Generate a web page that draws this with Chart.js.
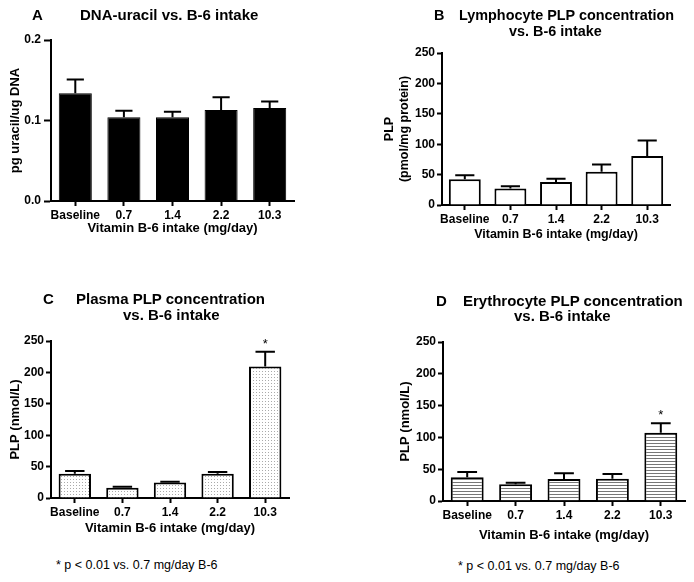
<!DOCTYPE html>
<html>
<head>
<meta charset="utf-8">
<script src="https://cdn.jsdelivr.net/npm/chart.js@4.4.0/dist/chart.umd.min.js"></script>
<style>
  html, body { margin: 0; padding: 0; background: #fff; }
  body { width: 694px; height: 582px; position: relative; overflow: hidden; font-family: "Liberation Sans", Arial, sans-serif; }
  canvas { position: absolute; }
  .t { position: absolute; white-space: pre; font-weight: bold; font-size: 15px; line-height: 18px; color: #000; z-index: 2; }
  .tb { font-size: 14.4px; }
  .fn { position: absolute; white-space: pre; font-size: 12.5px; line-height: 16px; color: #000; z-index: 2; }
</style>
</head>
<body>
<div class="t" style="left:32px; top:6px;">A</div>
<div class="t" style="left:80px; top:6px;">DNA-uracil vs. B-6 intake</div>

<div class="t tb" style="left:434px; top:6px;">B</div>
<div class="t tb" style="left:459px; top:6px;">Lymphocyte PLP concentration</div>
<div class="t tb" style="left:509px; top:22px;">vs. B-6 intake</div>

<div class="t" style="left:43px; top:290px;">C</div>
<div class="t" style="left:76px; top:290px;">Plasma PLP concentration</div>
<div class="t" style="left:123px; top:306px;">vs. B-6 intake</div>

<div class="t" style="left:436px; top:292px;">D</div>
<div class="t" style="left:463px; top:292px;">Erythrocyte PLP concentration</div>
<div class="t" style="left:514px; top:307px;">vs. B-6 intake</div>

<div class="fn" style="left:56px; top:557px;">* p &lt; 0.01 vs. 0.7 mg/day B-6</div>
<div class="fn" style="left:458px; top:558px;">* p &lt; 0.01 vs. 0.7 mg/day B-6</div>

<canvas id="cA" width="347" height="250" style="left:0px; top:0px;"></canvas>
<canvas id="cB" width="347" height="250" style="left:347px; top:0px;"></canvas>
<canvas id="cC" width="347" height="270" style="left:0px; top:280px;"></canvas>
<canvas id="cD" width="347" height="270" style="left:347px; top:280px;"></canvas>

<script>
// ---------- data ----------
const categories = ['Baseline', '0.7', '1.4', '2.2', '10.3'];
const xAxisTitle = 'Vitamin B-6 intake (mg/day)';

const uracilMean = [0.134, 0.104, 0.104, 0.113, 0.1155];
const uracilSem  = [0.017, 0.008, 0.007, 0.016, 0.008];
const uracilTicks = [0.0, 0.1, 0.2];

const lymphMean = [42.4, 27, 38, 54.5, 80.4];
const lymphSem  = [6.6, 4, 5, 12.2, 25.6];

const plasmaMean = [38.5, 16.5, 24.5, 38.8, 209.5];
const plasmaSem  = [4.5, 1.5, 1.5, 2.7, 23.4];

const erythMean = [37.3, 26.2, 34.6, 35.1, 107.4];
const erythSem  = [8.3, 2.6, 8.9, 7.2, 14.8];

const plpTicks = [0, 50, 100, 150, 200, 250];
const signif = ['', '', '', '', '*'];
const noSignif = ['', '', '', '', ''];

// ---------- helpers ----------
const FONT = '"Liberation Sans", Arial, sans-serif';
Chart.defaults.font.family = FONT;
Chart.defaults.color = '#000';

function dotPattern() {
  const c = document.createElement('canvas');
  c.width = 3; c.height = 3;
  const g = c.getContext('2d');
  g.fillStyle = '#fff'; g.fillRect(0, 0, 3, 3);
  g.fillStyle = '#aaa'; g.fillRect(1, 1, 1, 1);
  return g.createPattern(c, 'repeat');
}
function stripePattern() {
  const c = document.createElement('canvas');
  c.width = 4; c.height = 3;
  const g = c.getContext('2d');
  g.fillStyle = '#fff'; g.fillRect(0, 0, 4, 3);
  g.fillStyle = '#777'; g.fillRect(0, 1, 4, 1);
  return g.createPattern(c, 'repeat');
}

const errorBarPlugin = {
  id: 'errbars',
  afterDatasetsDraw(chart) {
    const o = chart.options.plugins.errbars;
    const meta = chart.getDatasetMeta(0);
    const y = chart.scales.y;
    const ctx = chart.ctx;
    ctx.save();
    ctx.strokeStyle = '#000';
    ctx.lineWidth = 2;
    meta.data.forEach((bar, i) => {
      const m = o.mean[i], s = o.sem[i];
      const yTop = y.getPixelForValue(m);
      const yErr = y.getPixelForValue(m + s);
      const half = bar.width * o.capFrac / 2;
      ctx.beginPath();
      ctx.moveTo(bar.x, yTop);
      ctx.lineTo(bar.x, yErr);
      ctx.moveTo(bar.x - half, yErr);
      ctx.lineTo(bar.x + half, yErr);
      ctx.stroke();
      if (o.marks[i]) {
        ctx.fillStyle = '#000';
        ctx.font = '13px ' + FONT;
        ctx.textAlign = 'center';
        ctx.textBaseline = 'alphabetic';
        ctx.fillText(o.marks[i], bar.x, yErr - 4);
      }
    });
    ctx.restore();
  }
};

function makePanel(id, cfg) {
  const ctx = document.getElementById(id);
  return new Chart(ctx, {
    type: 'bar',
    data: {
      labels: categories,
      datasets: [{
        data: cfg.mean,
        backgroundColor: cfg.fill,
        borderColor: '#000',
        borderWidth: cfg.border,
        barPercentage: cfg.barPct,
        categoryPercentage: 1.0
      }]
    },
    options: {
      responsive: false,
      animation: false,
      events: [],
      layout: { padding: { left: 0, top: cfg.top, right: cfg.right, bottom: 0 } },
      plugins: {
        legend: { display: false },
        tooltip: { enabled: false },
        title: { display: false },
        errbars: { mean: cfg.mean, sem: cfg.sem, marks: cfg.marks, capFrac: cfg.capFrac }
      },
      scales: {
        x: {
          type: 'category',
          offset: true,
          afterFit: (s) => { s.height = cfg.xH; },
          grid: { display: true, offset: false, drawOnChartArea: false, drawTicks: true, tickLength: 5, tickColor: '#000', tickWidth: 2, color: '#000' },
          border: { display: true, color: '#000', width: 2 },
          ticks: { font: { size: 12, weight: 'bold' }, color: '#000', padding: cfg.xTickPad, maxRotation: 0, autoSkip: false },
          title: { display: true, text: xAxisTitle, font: { size: cfg.titleSize, weight: 'bold' }, color: '#000', padding: { top: 0, bottom: cfg.xTitlePad } }
        },
        y: {
          min: cfg.ticks[0],
          max: cfg.ticks[cfg.ticks.length - 1],
          afterFit: (s) => { s.width = cfg.yW; },
          afterBuildTicks: (s) => { s.ticks = cfg.ticks.map(v => ({ value: v })); },
          grid: { display: true, drawOnChartArea: false, drawTicks: true, tickLength: cfg.yTickLen, tickColor: '#000', tickWidth: 2, color: '#000' },
          border: { display: true, color: '#000', width: 2 },
          ticks: {
            font: { size: 12, weight: 'bold' }, color: '#000', padding: cfg.yTickPad,
            callback: (v) => cfg.fmt(v)
          },
          title: { display: true, text: cfg.yTitle, font: { size: cfg.titleSize, weight: 'bold', lineHeight: 1.2 }, color: '#000', padding: { top: cfg.yTitlePad, bottom: 0 } }
        }
      }
    },
    plugins: [errorBarPlugin]
  });
}

makePanel('cA', {
  mean: uracilMean, sem: uracilSem, marks: noSignif, ticks: uracilTicks,
  fmt: (v) => Number(v).toFixed(1),
  fill: '#000', border: 1, barPct: 0.68, capFrac: 0.52,
  top: 40, right: 53, yW: 51, xH: 49,
  yTitle: 'pg uracil/ug DNA', titleSize: 13, yTitlePad: 7.2, xTitlePad: 14,
  yTickLen: 7, yTickPad: 3, xTickPad: 2
});

makePanel('cB', {
  mean: lymphMean, sem: lymphSem, marks: noSignif, ticks: plpTicks,
  fmt: (v) => String(v),
  fill: '#fff', border: 2, barPct: 0.7, capFrac: 0.6,
  top: 53, right: 24, yW: 95, xH: 45,
  yTitle: ['PLP', '(pmol/mg protein)'], titleSize: 12.5, yTitlePad: 35.5, xTitlePad: 8,
  yTickLen: 5, yTickPad: 2, xTickPad: 2
});

makePanel('cC', {
  mean: plasmaMean, sem: plasmaSem, marks: signif, ticks: plpTicks,
  fmt: (v) => String(v),
  fill: dotPattern(), border: 2, barPct: 0.68, capFrac: 0.6,
  top: 61, right: 58, yW: 51, xH: 52,
  yTitle: 'PLP (nmol/L)', titleSize: 13, yTitlePad: 7.2, xTitlePad: 14,
  yTickLen: 5, yTickPad: 2, xTickPad: 2
});

makePanel('cD', {
  mean: erythMean, sem: erythSem, marks: signif, ticks: plpTicks,
  fmt: (v) => String(v),
  fill: stripePattern(), border: 2, barPct: 0.68, capFrac: 0.6,
  top: 62, right: 9, yW: 96, xH: 49,
  yTitle: 'PLP (nmol/L)', titleSize: 13, yTitlePad: 50.2, xTitlePad: 7,
  yTickLen: 5, yTickPad: 2, xTickPad: 2
});
</script>
</body>
</html>
